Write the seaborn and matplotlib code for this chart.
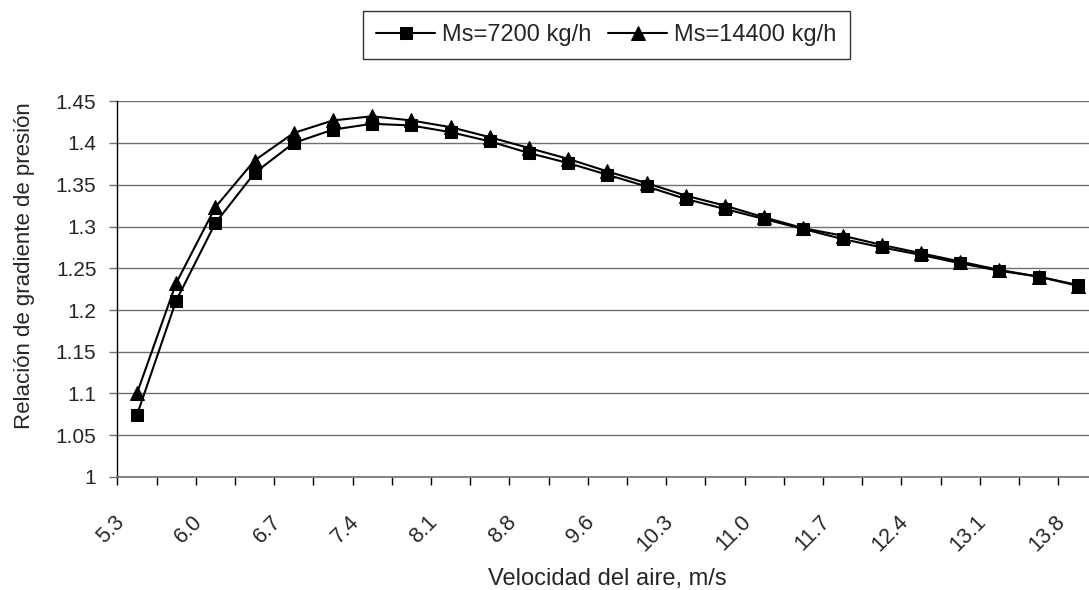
import matplotlib
matplotlib.use("Agg")
import matplotlib.pyplot as plt
from matplotlib.transforms import ScaledTranslation
import seaborn as sns
import pandas as pd

velocidad = ["5.3", "5.7", "6.0", "6.4", "6.7", "7.1", "7.4", "7.8", "8.1", "8.5",
             "8.8", "9.2", "9.6", "9.9", "10.3", "10.6", "11.0", "11.3", "11.7", "12.0",
             "12.4", "12.7", "13.1", "13.5", "13.8"]
ms_7200 = [1.074, 1.211, 1.304, 1.364, 1.400, 1.416, 1.423, 1.421, 1.413, 1.402,
           1.388, 1.376, 1.362, 1.348, 1.333, 1.321, 1.309, 1.297, 1.285, 1.275,
           1.266, 1.256, 1.247, 1.240, 1.230]
ms_14400 = [1.100, 1.232, 1.323, 1.379, 1.412, 1.427, 1.432, 1.427, 1.419, 1.407,
            1.394, 1.381, 1.366, 1.352, 1.337, 1.325, 1.311, 1.298, 1.289, 1.278,
            1.268, 1.258, 1.248, 1.240, 1.229]
labels = ["Ms=7200 kg/h", "Ms=14400 kg/h"]
yticks = [1, 1.05, 1.1, 1.15, 1.2, 1.25, 1.3, 1.35, 1.4, 1.45]
ytick_labels = ["1", "1.05", "1.1", "1.15", "1.2", "1.25", "1.3", "1.35", "1.4", "1.45"]

sns.set_style("white")
plt.rcParams['font.family'] = ['Liberation Sans', 'DejaVu Sans']

idx = list(range(len(velocidad)))
df1 = pd.DataFrame({"i": idx, "v": ms_7200})
df2 = pd.DataFrame({"i": idx, "v": ms_14400})

fig = plt.figure(figsize=(10.89, 5.90), dpi=100)
W, H = 1089, 590
x0, x1 = 117.3, 1097.3
yb, yt = 477.0, 101.25
ax = fig.add_axes([x0 / W, (H - yb) / H, (x1 - x0) / W, (yb - yt) / H])

sns.lineplot(data=df2, x="i", y="v", ax=ax, color="black", lw=1.5, marker="^",
             markersize=10, markeredgecolor="black", label=labels[1], zorder=3)
sns.lineplot(data=df1, x="i", y="v", ax=ax, color="black", lw=1.5, marker="s",
             markersize=9, markeredgecolor="black", label=labels[0], zorder=4)

ax.set_xlim(-0.5, len(velocidad) - 0.5)
ax.set_ylim(1, 1.45)
ax.set_yticks(yticks)
ax.set_yticklabels(ytick_labels, fontsize=15)
ax.yaxis.grid(True, color="#707070", lw=1)
ax.set_axisbelow(True)

# category labels every second category
ax.set_xticks(idx[::2])
ax.set_xticklabels(velocidad[::2], rotation=45, ha="right", va="center",
                   rotation_mode="anchor", fontsize=15.5)
ax.set_xticks([i - 0.5 for i in range(len(velocidad) + 1)], minor=True)
ax.tick_params(axis="x", which="major", length=0, pad=30)
ax.tick_params(axis="x", which="minor", length=6, width=1, color="black", direction="out", bottom=True)
ax.tick_params(axis="y", which="major", length=6, width=1, color="#707070", direction="out", left=True, pad=9)
off = ScaledTranslation(-16 / 100, 0, fig.dpi_scale_trans)
for lab in ax.get_xticklabels():
    lab.set_transform(lab.get_transform() + off)

for s in ["top", "right"]:
    ax.spines[s].set_visible(False)
ax.spines["left"].set_color("black")
ax.spines["left"].set_linewidth(1)
ax.spines["bottom"].set_color("#707070")
ax.spines["bottom"].set_linewidth(1.2)

ax.set_xlabel("Velocidad del aire, m/s", fontsize=17)
ax.set_ylabel("Relación de gradiente de presión", fontsize=16)
ax.xaxis.set_label_coords(0.5, (yb - 579) / (yb - yt))
ax.yaxis.set_label_coords((25 - x0) / (x1 - x0), (yb - 266) / (yb - yt))
ax.xaxis.label.set_va("center")
ax.yaxis.label.set_va("center")

h, l = ax.get_legend_handles_labels()
ax.get_legend().remove()
order = [l.index(labels[0]), l.index(labels[1])]
leg = fig.legend([h[k] for k in order], [l[k] for k in order], loc="center",
                 bbox_to_anchor=(606.5 / W, (H - 35.2) / H), ncol=2, fontsize=17,
                 frameon=True, fancybox=False, edgecolor="black", handlelength=2.5,
                 handletextpad=0.3, columnspacing=0.7, borderpad=0.55)
leg.get_frame().set_linewidth(1)

fig.savefig("out.png", dpi=100)
